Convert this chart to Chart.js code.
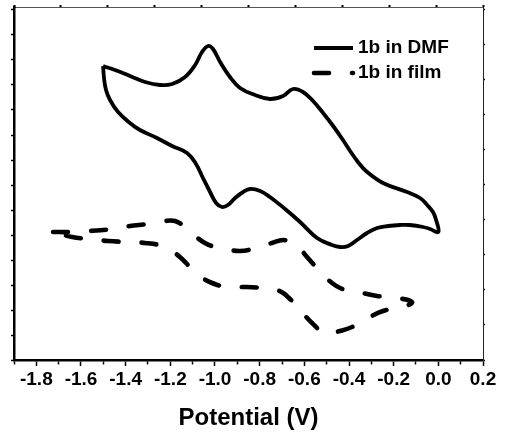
<!DOCTYPE html>
<html>
<head>
<meta charset="utf-8">
<script src="https://cdn.jsdelivr.net/npm/chart.js@4.4.1/dist/chart.umd.min.js"></script>
<style>
  html, body { margin: 0; padding: 0; background: #ffffff; }
  #c { display: block; }
</style>
</head>
<body>
<canvas id="c" width="507" height="436"></canvas>
<script>
// ---- data (potential in V, current in arbitrary units) ----
const seriesLabels = ['1b in DMF', '1b in film'];

const dmfPotential = [
  -1.501, -1.448, -1.381, -1.313, -1.246, -1.192, -1.134, -1.089, -1.058, -1.031,
  -1.009, -0.977, -0.933, -0.888, -0.821, -0.754, -0.695, -0.651, -0.606, -0.561,
  -0.516, -0.471, -0.427, -0.395, -0.360, -0.319, -0.248, -0.140, -0.082, -0.050,
  -0.024, -0.010, 0.000,
  -0.037, -0.068, -0.127, -0.171, -0.225, -0.274, -0.319, -0.364, -0.404, -0.440,
  -0.476, -0.543, -0.619, -0.686, -0.754, -0.798, -0.843, -0.874, -0.910, -0.942,
  -0.969, -0.995, -1.022, -1.054, -1.085, -1.125, -1.192, -1.260, -1.336, -1.381,
  -1.434, -1.470, -1.488, -1.497, -1.501
];
const dmfCurrent = [
  29.4, 29.0, 28.4, 27.8, 27.5, 27.6, 28.3, 29.5, 30.8, 31.4,
  31.1, 29.8, 28.3, 27.2, 26.5, 26.1, 26.4, 27.1, 26.8, 25.9,
  24.7, 23.4, 22.0, 20.9, 19.8, 18.8, 17.7, 16.8, 16.2, 15.5,
  14.8, 14.0, 12.8,
  13.1, 13.3, 13.5, 13.5, 13.4, 13.2, 12.7, 12.0, 11.4, 11.3,
  11.5, 12.2, 13.8, 15.1, 16.3, 16.9, 17.1, 16.8, 16.2, 15.5,
  15.3, 15.7, 16.8, 18.2, 19.6, 20.7, 21.4, 22.2, 23.0, 23.7,
  24.8, 26.0, 27.0, 28.2, 29.4
];

const filmPotential = [
  -1.725, -1.649, -1.560, -1.461, -1.381, -1.300, -1.224, -1.179, -1.134, -1.089,
  -1.045, -1.000, -0.955, -0.888, -0.816, -0.745, -0.695, -0.655, -0.619, -0.588,
  -0.552, -0.516, -0.476, -0.440, -0.395, -0.342, -0.274, -0.185, -0.118,
  -0.158, -0.248, -0.315, -0.386, -0.440, -0.485, -0.521, -0.552, -0.592, -0.628,
  -0.664, -0.695, -0.740, -0.785, -0.857, -0.946, -1.013, -1.076, -1.112, -1.157,
  -1.192, -1.233, -1.313, -1.394, -1.479, -1.560, -1.640, -1.725
];
const filmCurrent = [
  12.8, 12.8, 12.9, 13.1, 13.4, 13.6, 13.9, 13.9, 13.3, 12.4,
  11.7, 11.3, 11.1, 10.9, 11.2, 11.7, 12.0, 11.7, 11.1, 10.3,
  9.4, 8.5, 7.7, 7.2, 6.9, 6.7, 6.4, 6.2, 5.8,
  5.3, 4.9, 4.2, 3.3, 2.9, 2.7, 2.8, 3.4, 4.3, 5.3,
  6.1, 6.7, 7.1, 7.2, 7.3, 7.3, 7.7, 8.5, 9.3, 10.3,
  10.9, 11.4, 11.7, 11.8, 11.9, 12.1, 12.3, 12.8
];

const xTickValues = [-1.9, -1.8, -1.7, -1.6, -1.5, -1.4, -1.3, -1.2, -1.1, -1.0, -0.9,
                     -0.8, -0.7, -0.6, -0.5, -0.4, -0.3, -0.2, -0.1, 0.0, 0.1, 0.2];
const xTickLabels = ['', '-1.8', '', '-1.6', '', '-1.4', '', '-1.2', '', '-1.0', '',
                     '-0.8', '', '-0.6', '', '-0.4', '', '-0.2', '', '0.0', '', '0.2'];
const axisTitle = 'Potential (V)';

// ---- chart ----
const FONT = "'Liberation Sans', Arial, Helvetica, sans-serif";
Chart.defaults.font.family = FONT;
Chart.defaults.color = '#000';

const toXY = (xs, ys) => xs.map((x, i) => ({ x: x, y: ys[i] }));

const insideLegend = {
  id: 'insideLegend',
  afterDatasetsDraw(chart) {
    const { ctx, chartArea } = chart;
    const x0 = chartArea.right - 169;
    const y0 = chartArea.top + 41;
    const row = 25, sample = 39;
    chart.data.datasets.forEach((ds, i) => {
      const y = y0 + i * row;
      ctx.save();
      ctx.strokeStyle = ds.borderColor;
      ctx.lineWidth = ds.borderWidth;
      ctx.lineCap = ds.borderCapStyle || 'butt';
      ctx.setLineDash(ds.borderDash || []);
      ctx.beginPath();
      ctx.moveTo(x0, y);
      ctx.lineTo(x0 + sample, y);
      ctx.stroke();
      ctx.setLineDash([]);
      ctx.fillStyle = '#000';
      ctx.font = 'bold 19px ' + FONT;
      ctx.textBaseline = 'middle';
      ctx.textAlign = 'left';
      ctx.fillText(ds.label, x0 + sample + 5, y);
      ctx.restore();
    });
  }
};

new Chart(document.getElementById('c'), {
  type: 'scatter',
  data: {
    datasets: [
      {
        label: seriesLabels[0],
        data: toXY(dmfPotential, dmfCurrent),
        showLine: true,
        borderColor: '#000',
        borderWidth: 3.8,
        borderCapStyle: 'butt',
        borderJoinStyle: 'round',
        pointRadius: 0,
        tension: 0.4,
        fill: false
      },
      {
        label: seriesLabels[1],
        data: toXY(filmPotential, filmCurrent),
        showLine: true,
        borderColor: '#000',
        borderWidth: 4.6,
        borderDash: [15, 23],
        borderCapStyle: 'round',
        borderJoinStyle: 'round',
        pointRadius: 0,
        tension: 0.4,
        fill: false
      }
    ]
  },
  options: {
    responsive: false,
    animation: false,
    devicePixelRatio: 1,
    layout: { padding: 0 },
    plugins: {
      legend: { display: false },
      tooltip: { enabled: false }
    },
    scales: {
      x: {
        type: 'linear',
        position: 'bottom',
        min: -1.9,
        max: 0.2,
        afterBuildTicks: (s) => { s.ticks = xTickValues.map(v => ({ value: v })); },
        afterFit: (s) => { s.height = 76; },
        ticks: {
          autoSkip: false,
          maxRotation: 0,
          padding: 2,
          color: '#000',
          font: { size: 19, weight: 'bold' },
          callback: (v, i) => xTickLabels[i]
        },
        grid: {
          drawOnChartArea: false,
          tickLength: 6,
          tickWidth: 1.5,
          tickColor: '#000',
          tickBorderDash: (ctx) => (xTickLabels[ctx.index] ? [] : [3, 20])
        },
        border: { color: '#000', width: 2.5 },
        title: {
          display: true,
          text: axisTitle,
          color: '#000',
          font: { size: 24, weight: 'bold' },
          padding: { top: 0, bottom: 3 }
        }
      },
      xTop: {
        type: 'linear',
        position: 'top',
        min: 0,
        max: 10,
        afterFit: (s) => { s.height = 7; },
        ticks: { display: false, stepSize: 1 },
        grid: { drawOnChartArea: false, tickLength: 2, tickWidth: 2, tickColor: '#000' },
        border: { color: '#555', width: 1 }
      },
      y: {
        type: 'linear',
        position: 'left',
        min: 0,
        max: 35.3,
        afterFit: (s) => { s.width = 14; },
        ticks: { display: false, stepSize: 2.5, includeBounds: false },
        grid: { drawOnChartArea: false, tickLength: 3, tickWidth: 1.5, tickColor: '#000' },
        border: { color: '#000', width: 2.5 }
      },
      yRight: {
        type: 'linear',
        position: 'right',
        min: 0,
        max: 10.085,
        afterFit: (s) => { s.width = 24; },
        ticks: { display: false, stepSize: 1, includeBounds: false },
        grid: { drawOnChartArea: false, tickLength: 2, tickWidth: 1.5, tickColor: '#000' },
        border: { color: '#222', width: 1 }
      }
    }
  },
  plugins: [insideLegend]
});
</script>
</body>
</html>
